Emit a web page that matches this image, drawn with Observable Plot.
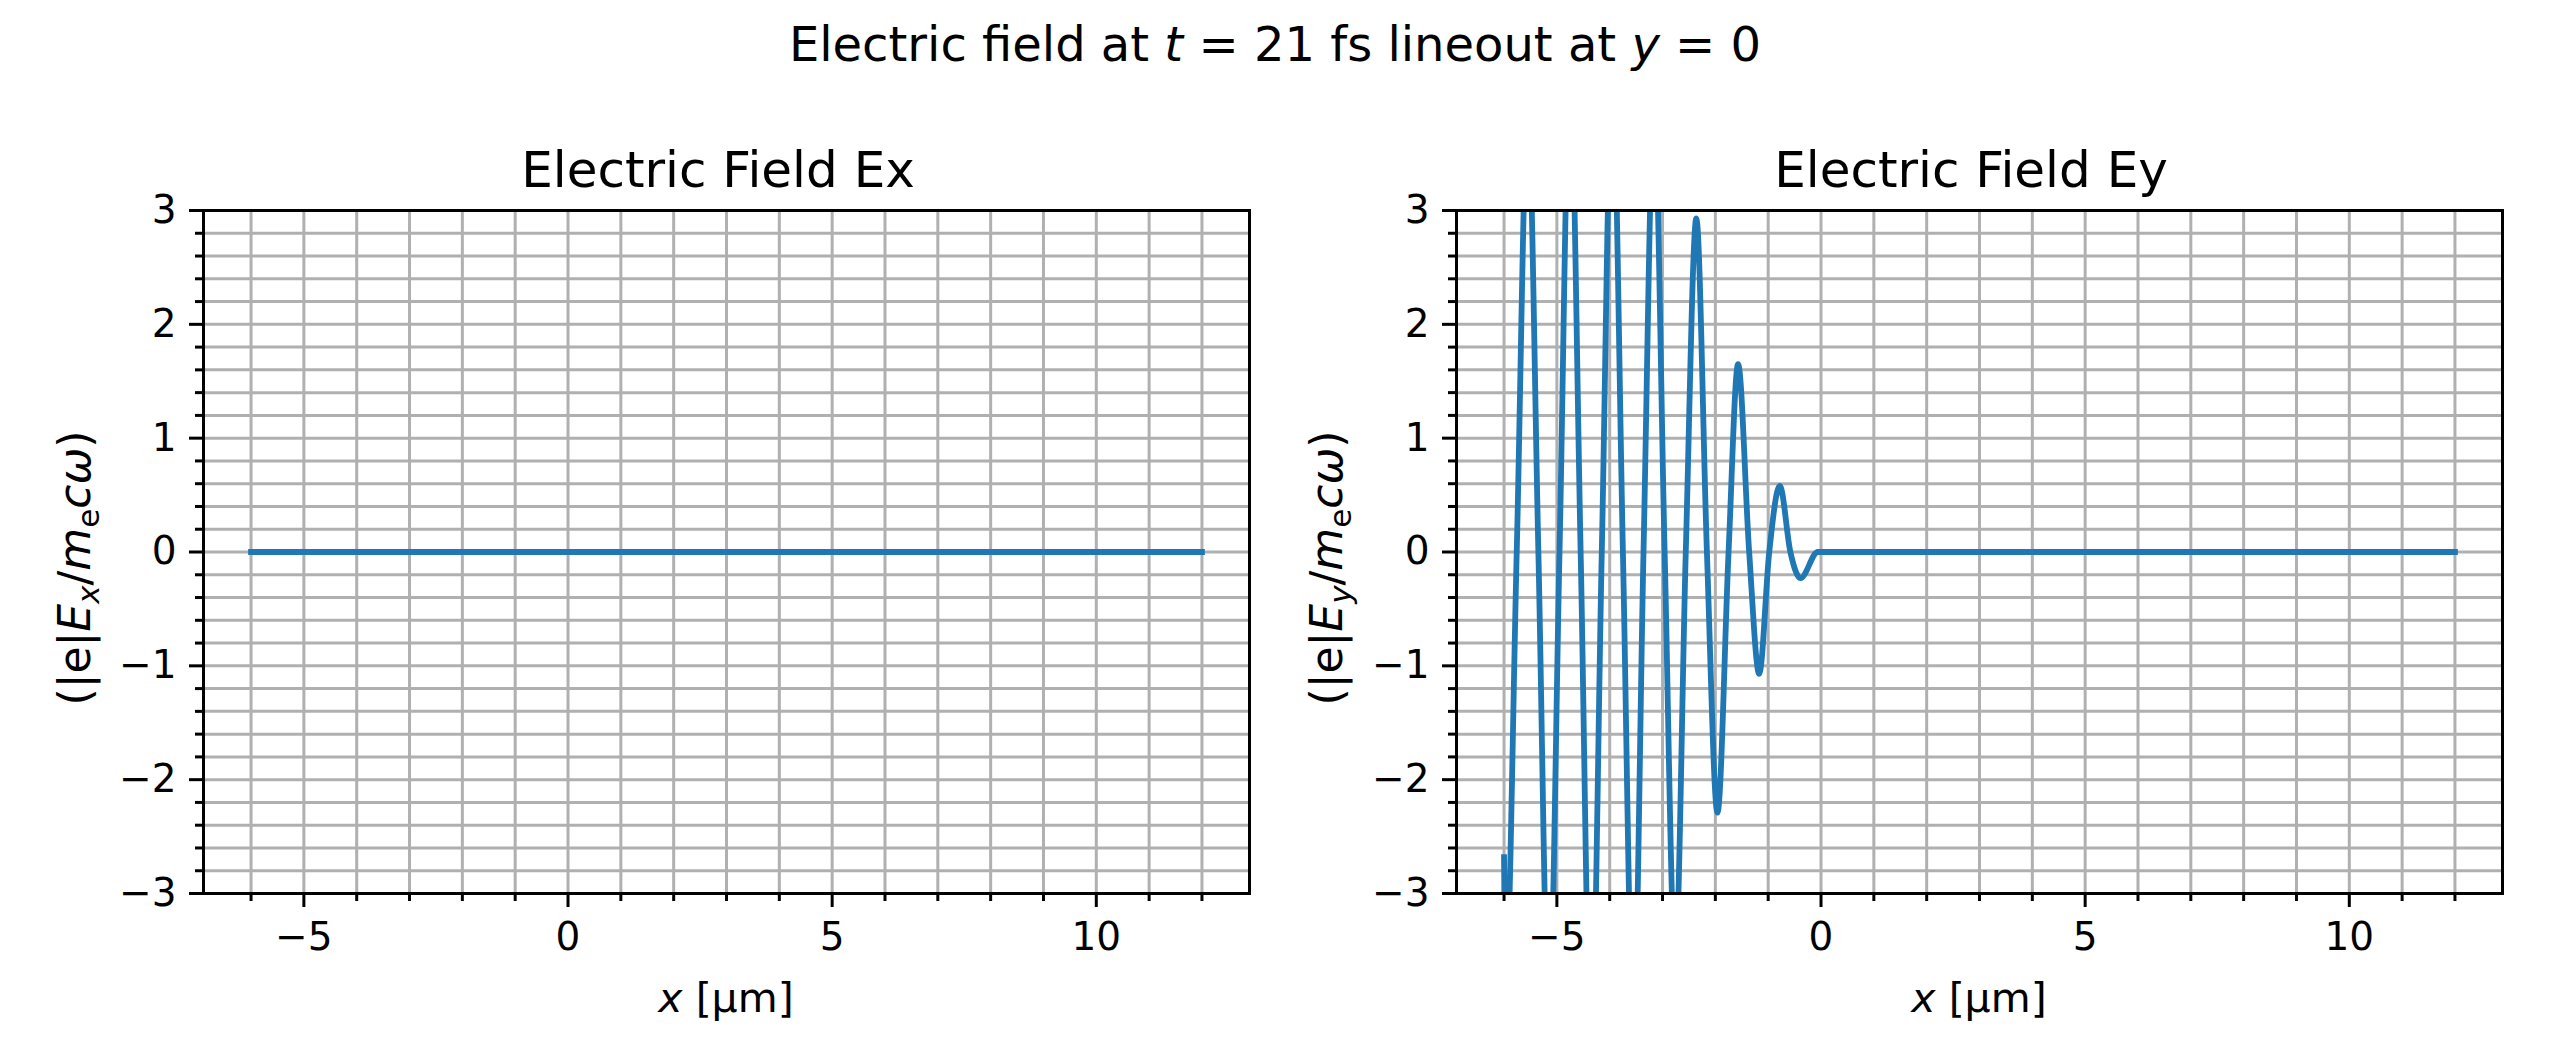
<!DOCTYPE html>
<html>
<head>
<meta charset="utf-8">
<script src="https://cdn.jsdelivr.net/npm/d3@7"></script>
<script src="https://cdn.jsdelivr.net/npm/@observablehq/plot@0.6"></script>
<style>
  html, body { margin: 0; padding: 0; background: #fff; }
  #fig { position: relative; width: 2550px; height: 1050px; background: #fff; font-family: "DejaVu Sans", sans-serif; }
  #sup { position: absolute; left: 0; top: 20px; width: 2550px; text-align: center; font-size: 48px; line-height: 48px; color: #000; white-space: pre; }
  #sup i { font-style: italic; }
  .panel { position: absolute; top: 0; }
</style>
</head>
<body>
<div id="fig">
  <div id="sup">Electric field at <i>t</i> = 21 fs lineout at <i>y</i> = 0</div>
  <div id="left" class="panel" style="left:0px"></div>
  <div id="right" class="panel" style="left:1290px"></div>
</div>
<script>
// ---- data ----
const exX = [-6.0, 12.0];
const exY = [0, 0];

const eyX = [-6.00, -5.97, -5.76, -5.55, -5.35, -5.15, -4.95, -4.75, -4.55, -4.35, -4.15, -3.95,
             -3.75, -3.55, -3.36, -3.16, -2.96, -2.76, -2.56, -2.36, -2.16, -1.96, -1.75, -1.57,
             -1.36, -1.17, -0.98, -0.78, -0.58, -0.39, -0.06, 12.0];
const eyY = [-2.68, -3.8, 0, 3.9, 0, -4.1, 0, 4.2, 0, -4.4, 0, 4.2,
             0, -4.2, 0, 3.9, 0, -3.6, 0, 2.93, 0, -2.29, 0, 1.65,
             0, -1.07, 0, 0.58, 0, -0.23, 0, 0];

const xMajorTicks = [-5, 0, 5, 10];
const xMinorTicks = [-6, -4, -3, -2, -1, 1, 2, 3, 4, 6, 7, 8, 9, 11, 12];
const xGridLines = [-6, -5, -4, -3, -2, -1, 0, 1, 2, 3, 4, 5, 6, 7, 8, 9, 10, 11, 12];
const yMajorTicks = [-3, -2, -1, 0, 1, 2, 3];
const yMinorTicks = [-2.8, -2.6, -2.4, -2.2, -1.8, -1.6, -1.4, -1.2, -0.8, -0.6, -0.4, -0.2,
                     0.2, 0.4, 0.6, 0.8, 1.2, 1.4, 1.6, 1.8, 2.2, 2.4, 2.6, 2.8];
const yGridLines = [-3, -2.8, -2.6, -2.4, -2.2, -2, -1.8, -1.6, -1.4, -1.2, -1, -0.8, -0.6, -0.4, -0.2,
                    0, 0.2, 0.4, 0.6, 0.8, 1, 1.2, 1.4, 1.6, 1.8, 2, 2.2, 2.4, 2.6, 2.8, 3];
const xDomain = [-6.9, 12.9];
const yDomain = [-3, 3];

const exData = exX.map((x, i) => ({x, y: exY[i]}));
const eyData = eyX.map((x, i) => ({x, y: eyY[i]}));

const fmt = d => d < 0 ? "\u2212" + Math.abs(d) : String(d);
const BLUE = "#1f77b4";

function panel({data, width, marginLeft, marginRight, title, sub, ylabelX}) {
  const marginTop = 210, marginBottom = 157, height = 1050;
  const svg = Plot.plot({
    width, height, marginLeft, marginRight, marginTop, marginBottom,
    x: {domain: xDomain},
    y: {domain: yDomain},
    style: {fontFamily: "DejaVu Sans", fontSize: "39px", color: "black", background: "transparent", overflow: "visible"},
    marks: [
      Plot.gridX(xGridLines, {stroke: "#b0b0b0", strokeOpacity: 1, strokeWidth: 3}),
      Plot.gridY(yGridLines, {stroke: "#b0b0b0", strokeOpacity: 1, strokeWidth: 3}),
      Plot.line(data, {x: "x", y: "y", stroke: BLUE, strokeWidth: 5.8, curve: "monotone-x",
                       clip: true, strokeLinejoin: "round", strokeLinecap: "square"}),
      Plot.frame({stroke: "black", strokeWidth: 3}),
      Plot.axisX(xMajorTicks, {anchor: "bottom", tickSize: 14, tickPadding: 15, strokeWidth: 3,
                               tickFormat: fmt, label: null, fontSize: 39}),
      Plot.axisX(xMinorTicks, {anchor: "bottom", tickSize: 8, strokeWidth: 3,
                               tickFormat: () => "", label: null}),
      Plot.axisY(yMajorTicks, {anchor: "left", tickSize: 14, tickPadding: 13, strokeWidth: 3,
                               tickFormat: fmt, label: null, fontSize: 39}),
      Plot.axisY(yMinorTicks, {anchor: "left", tickSize: 8, strokeWidth: 3,
                               tickFormat: () => "", label: null})
    ]
  });
  const s = d3.select(svg);
  const cx = marginLeft + (width - marginLeft - marginRight) / 2;
  // subplot title
  s.append("text").attr("x", cx - 8).attr("y", 187).attr("text-anchor", "middle")
    .attr("font-family", "DejaVu Sans").attr("font-size", 50).attr("fill", "black")
    .text(title);
  // x label
  const xl = s.append("text").attr("x", cx).attr("y", 1012).attr("text-anchor", "middle")
    .attr("font-family", "DejaVu Sans").attr("font-size", 41).attr("fill", "black");
  xl.append("tspan").attr("font-style", "italic").text("x");
  xl.append("tspan").text(" [\u00b5m]");
  // y label
  const yl = s.append("text").attr("transform", `translate(${ylabelX},568) rotate(-90)`)
    .attr("text-anchor", "middle").attr("font-family", "DejaVu Sans").attr("font-size", 44).attr("fill", "black");
  yl.append("tspan").text("(|e|");
  yl.append("tspan").attr("font-style", "italic").text("E");
  yl.append("tspan").attr("font-style", "italic").attr("font-size", 31).attr("dy", 9).text(sub);
  yl.append("tspan").attr("dy", -9).text("/");
  yl.append("tspan").attr("font-style", "italic").text("m");
  yl.append("tspan").attr("font-size", 31).attr("dy", 9).text("e");
  yl.append("tspan").attr("dy", -9).attr("font-style", "italic").text("c\u03c9");
  yl.append("tspan").text(")");
  return svg;
}

document.getElementById("left").appendChild(panel({
  data: exData, width: 1290, marginLeft: 203, marginRight: 41,
  title: "Electric Field Ex", sub: "x", ylabelX: 90
}));
document.getElementById("right").appendChild(panel({
  data: eyData, width: 1260, marginLeft: 166, marginRight: 48,
  title: "Electric Field Ey", sub: "y", ylabelX: 52
}));
</script>
</body>
</html>
